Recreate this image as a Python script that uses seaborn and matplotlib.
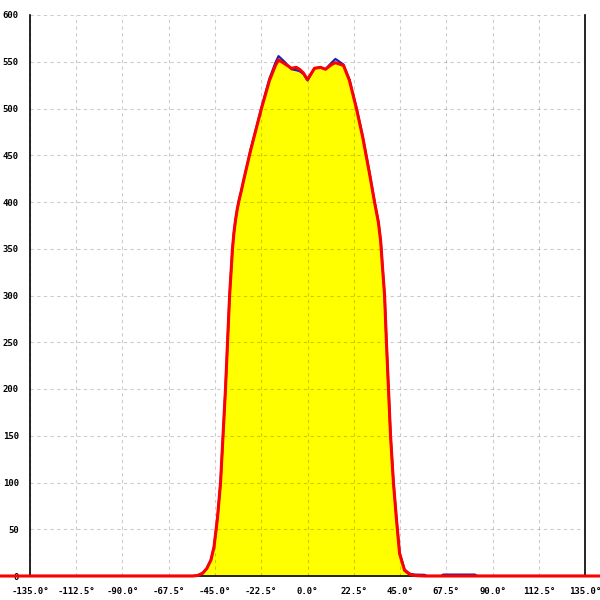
import numpy as np
import pandas as pd
import seaborn as sns
import matplotlib
matplotlib.use("Agg")
import matplotlib.pyplot as plt

# angles (deg) shared by both series
angles = [-150, -135, -112.5, -90, -67.5, -56, -53.5, -51, -49, -47, -45.5, -44.5,
          -43.8, -42.3, -41.1, -39.9, -38.9, -37.9, -36.5, -35.8, -35.0, -34.2,
          -33.3, -32.2, -31.1, -27.7, -22.4, -18.5, -15.6, -14.1, -11.2, -7.8,
          -5.5, -3.9, -2, 0, 2, 3.4, 6.3, 8.8, 11.7, 13.6, 17.5, 20.4, 23.8,
          26.8, 30.2, 32.6, 34.5, 35.6, 36.5, 37.5, 38.4, 39.4, 40.4, 41.8,
          43.3, 44.8, 47.2, 49.6, 52.1, 57, 58, 65, 66, 81.5, 82.5, 90, 112.5,
          135, 142]

red_vals = [0, 0, 0, 0, 0, 0, 0.5, 3, 8, 17, 31, 49,
            62, 100, 150, 200, 250, 300, 350, 367, 381, 392,
            402, 412, 423, 455, 500, 530, 546, 552, 548, 543,
            544, 542, 538, 531, 538, 543, 544, 542, 547, 549, 546, 530, 500,
            470, 430, 400, 378, 358, 330, 300, 250, 200, 150, 100,
            60, 24, 6, 2, 0.5, 0, 0, 0, 0, 0, 0, 0, 0,
            0, 0]

blue_vals = [0, 0, 0, 0, 0, 0, 0.5, 3, 8, 17, 31, 49,
             62, 100, 150, 200, 250, 300, 350, 367, 381, 392,
             402, 412, 423, 456, 501, 532, 549, 556, 550, 542,
             541, 540, 537, 530, 538, 543, 544, 542, 549, 553, 547, 531, 501,
             471, 431, 401, 379, 359, 331, 301, 251, 201, 151, 101,
             61, 25, 7, 2.5, 1.5, 1.2, 0, 0, 1.5, 1.5, 0, 0, 0,
             0, 0]

x_ticks = [-135.0, -112.5, -90.0, -67.5, -45.0, -22.5, 0.0, 22.5, 45.0, 67.5, 90.0, 112.5, 135.0]
y_ticks = [0, 50, 100, 150, 200, 250, 300, 350, 400, 450, 500, 550, 600]

df = pd.DataFrame({"angle": angles, "red": red_vals, "blue": blue_vals})

sns.set_style("white")
fig = plt.figure(figsize=(6, 6), dpi=100)
ax = fig.add_axes([0.05, 0.04, 0.925, 0.935])

ax.fill_between(df["angle"], df["red"], 0, color="#ffff00", linewidth=0, zorder=0.3)
sns.lineplot(data=df, x="angle", y="blue", ax=ax, color="#2020b0", linewidth=1.6,
             sort=False, zorder=2)
sns.lineplot(data=df, x="angle", y="red", ax=ax, color="#ff0000", linewidth=2.2,
             sort=False, zorder=3)
ax.lines[-1].set_clip_on(False)

ax.set_xlim(-135, 135)
ax.set_ylim(0, 600)
ax.set_xticks(x_ticks)
ax.set_xticklabels([f"{t:.1f}°" for t in x_ticks])
ax.set_yticks(y_ticks)
ax.set_yticklabels([str(t) for t in y_ticks])
ax.set_xlabel("")
ax.set_ylabel("")

ax.set_axisbelow(True)
ax.grid(True, color="black", alpha=0.2, linestyle=(0, (3, 3)), linewidth=0.8)

for s in ["left", "right", "bottom"]:
    ax.spines[s].set_visible(True)
    ax.spines[s].set_color("black")
    ax.spines[s].set_linewidth(1.2)
ax.spines["top"].set_visible(False)

ax.tick_params(axis="both", direction="inout", length=10, width=1.2, colors="black",
               labelsize=6.5, pad=3)
for lab in ax.get_xticklabels() + ax.get_yticklabels():
    lab.set_family("DejaVu Sans Mono")
    lab.set_fontweight("bold")

fig.savefig("out.png", dpi=100)
